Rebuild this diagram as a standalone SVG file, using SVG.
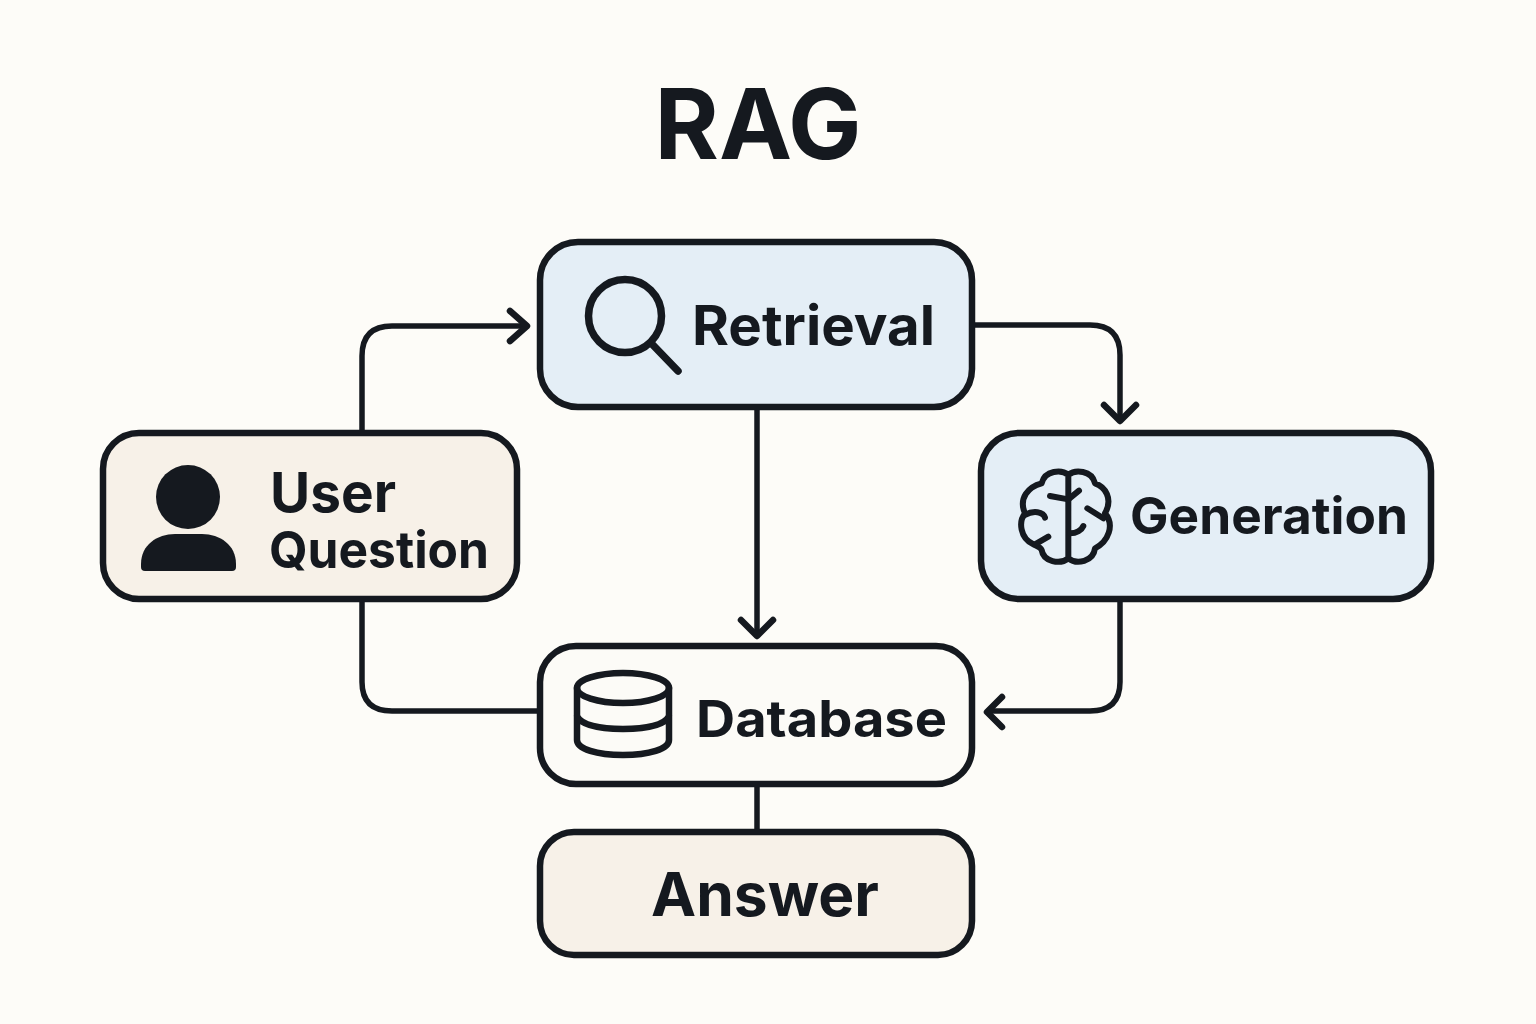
<svg xmlns="http://www.w3.org/2000/svg" width="1536" height="1024" viewBox="0 0 1536 1024">
<style>
.box{stroke:#15191f;stroke-width:6.5}
.line{fill:none;stroke:#15191f;stroke-width:5.5;stroke-linecap:round;stroke-linejoin:round}
.head{fill:none;stroke:#15191f;stroke-width:6.5;stroke-linecap:round;stroke-linejoin:round}
.t{font-family:Inter,"Liberation Sans",sans-serif;font-weight:700;fill:#15191f}
.ic{fill:none;stroke:#15191f;stroke-width:6.5;stroke-linecap:round;stroke-linejoin:round}
</style>
<rect width="1536" height="1024" fill="#fdfcf8"/>
<text id="title" class="t" x="758" y="159" font-size="98" text-anchor="middle">RAG</text>
<g id="connectors">
<path class="line" d="M362 432V356Q362 326 392 326H524"/>
<path class="head" d="M510 311L527 326L510 341"/>
<path class="line" d="M974 325H1090Q1120 325 1120 355V420"/>
<path class="head" d="M1104 405L1120 421L1136 405"/>
<path class="line" d="M757 408V635"/>
<path class="head" d="M741 620L757 636L773 620"/>
<path class="line" d="M1120 600V682Q1120 711 1090 711H990"/>
<path class="head" d="M1002 697L987 712L1002 727"/>
<path class="line" d="M362 600V682Q362 711 392 711H538"/>
<path class="line" d="M757 785V830"/>
</g>
<g id="retrieval">
<rect class="box" x="540" y="242" width="432" height="165" rx="38" fill="#e4eef6"/>
<circle class="ic" style="stroke-width:7.5" cx="625" cy="316" r="36.5"/>
<path class="ic" style="stroke-width:7.5" d="M651 343L678 371"/>
<text class="t" x="692" y="345" font-size="55" textLength="243" lengthAdjust="spacingAndGlyphs">Retrieval</text>
</g>
<g id="user-question">
<rect class="box" x="103" y="433" width="414" height="166" rx="36" fill="#f7f1e8"/>
<circle cx="188" cy="497" r="32" fill="#15191f"/>
<path d="M141 567V564C141 545 157 534 175 534H202C220 534 236 545 236 564V567Q236 571 232 571H145Q141 571 141 567Z" fill="#15191f"/>
<text class="t" x="270" y="512" font-size="55" textLength="126" lengthAdjust="spacingAndGlyphs">User</text>
<text class="t" x="269" y="568" font-size="51" textLength="220" lengthAdjust="spacingAndGlyphs">Question</text>
</g>
<g id="generation">
<rect class="box" x="981" y="433" width="450" height="166" rx="38" fill="#e4eef6"/>
<g transform="translate(1000 450) scale(.3333)">
<path class="ic" style="stroke-width:18" d="M205 75C185 58 135 60 125 100C85 110 55 145 75 190C55 215 60 265 100 283C115 290 122 292 125 300C130 335 180 345 205 325C230 345 280 335 285 295C325 275 345 225 315 190C340 145 315 110 285 100C275 60 225 58 205 75V325"/>
<path class="ic" style="stroke-width:18" d="M150 138L205 148L237 122M262 175L310 205M210 250C230 250 245 240 250 228M75 195C100 180 130 185 135 203M105 283L145 260"/>
</g>
<text class="t" x="1130" y="534" font-size="51" textLength="278" lengthAdjust="spacingAndGlyphs">Generation</text>
</g>
<g id="database">
<rect class="box" x="540" y="646" width="432" height="138" rx="36" fill="#fcfbf7"/>
<ellipse class="ic" cx="623" cy="688" rx="46" ry="15"/>
<path class="ic" d="M577 688V740C577 749 597 755 623 755C649 755 669 749 669 740V688M577 716C581 725 600 729 623 729C646 729 665 725 669 716"/>
<text class="t" x="696" y="737" font-size="51" textLength="251" lengthAdjust="spacingAndGlyphs">Database</text>
</g>
<g id="answer">
<rect class="box" x="540" y="832" width="432" height="123" rx="34" fill="#f7f1e8"/>
<text class="t" x="765" y="916" font-size="60" text-anchor="middle" textLength="228" lengthAdjust="spacingAndGlyphs">Answer</text>
</g>
</svg>
